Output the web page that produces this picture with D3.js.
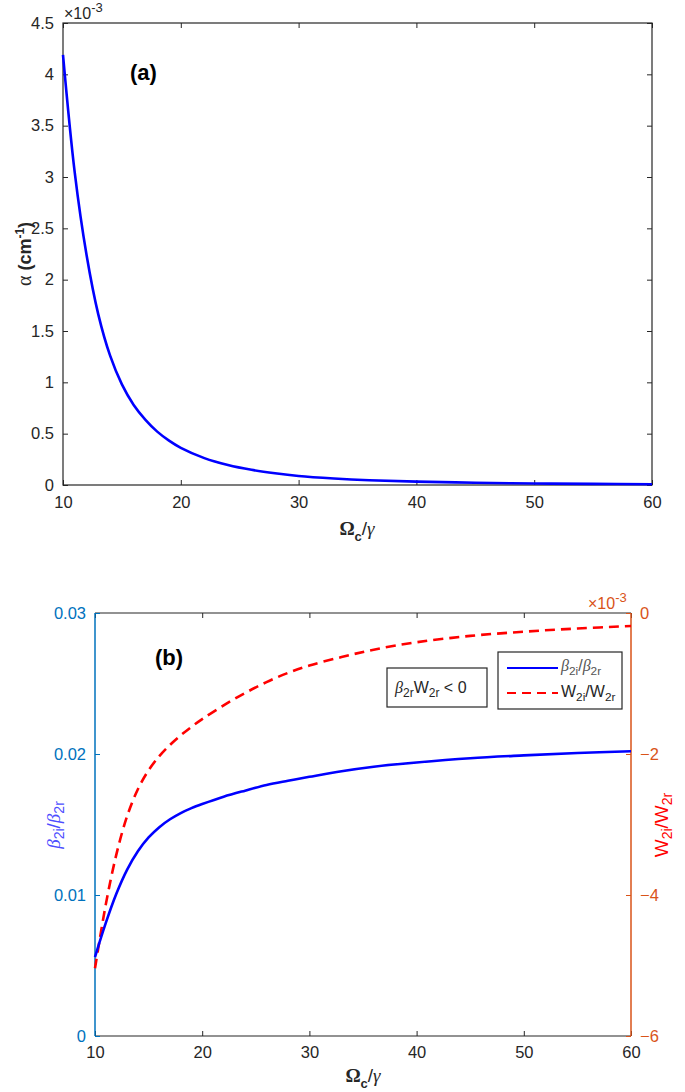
<!DOCTYPE html>
<html><head><meta charset="utf-8">
<script src="https://cdn.jsdelivr.net/npm/d3@7"></script>
<style>body{margin:0;background:#fff}svg{display:block}text{font-family:"Liberation Sans",Arial,sans-serif}</style>
</head><body><svg id="c" width="685" height="1092"></svg>
<script>
// ---- data ----
const omega = [10,11,12,13,14,15,16,17,18,19,20,22,24,26,28,30,33,36,40,45,50,55,60];
const alphaE3 = [4.19,3.04,2.24,1.66,1.26,0.98,0.78,0.635,0.52,0.432,0.362,0.262,0.195,0.148,0.114,0.088,0.064,0.047,0.033,0.022,0.015,0.011,0.008];
const betaRatio = [0.0056,0.0080,0.0101,0.0118,0.0131,0.01408,0.01481,0.01537,0.01581,0.01616,0.01645,0.01697,0.0174,0.0178,0.0181,0.01838,0.01878,0.0191,0.0194,0.0197,0.0199,0.02007,0.0202];
const wRatioE3 = [-5.04,-4.14,-3.42,-2.88,-2.50,-2.23,-2.03,-1.87,-1.735,-1.615,-1.505,-1.31,-1.135,-0.98,-0.85,-0.745,-0.625,-0.52,-0.415,-0.325,-0.265,-0.22,-0.185];
const xTicks = [10,20,30,40,50,60];
const aTicks = [0,0.5,1,1.5,2,2.5,3,3.5,4,4.5];
const bLeftTicks = [0,0.01,0.02,0.03];
const bRightTicks = [-6,-4,-2,0];

const svg = d3.select("#c");
const BLUE="#0000ff", RED="#ff0000", LAX="#0072BD", RAX="#D95319", DK="#262626";
const tl = 5, FS = 16.5;
const curve = d3.curveCatmullRom.alpha(0.5);

// ---- panel (a) ----
const xa = d3.scaleLinear().domain([10,60]).range([63,652]);
const ya = d3.scaleLinear().domain([0,4.5]).range([485,23]);
const ga = svg.append("g");
function axisStyle(g,color,size){g.attr("font-size",size).attr("font-family",null);g.select(".domain").remove();g.selectAll("text").attr("fill",color).style("font-size",size+"px");g.selectAll("line").attr("stroke",color);}
ga.append("g").attr("transform","translate(0,485)").call(d3.axisBottom(xa).tickValues(xTicks).tickSize(-tl).tickPadding(11).tickFormat(d3.format("d"))).call(g=>axisStyle(g,DK,FS));
ga.append("g").attr("transform","translate(0,23)").call(d3.axisTop(xa).tickValues(xTicks).tickSize(-tl).tickFormat("")).call(g=>axisStyle(g,DK,FS));
ga.append("g").attr("transform","translate(63,0)").call(d3.axisLeft(ya).tickValues(aTicks).tickSize(-tl).tickPadding(9).tickFormat(d=>d3.format("")(d))).call(g=>axisStyle(g,DK,FS));
ga.append("g").attr("transform","translate(652,0)").call(d3.axisRight(ya).tickValues(aTicks).tickSize(-tl).tickFormat("")).call(g=>axisStyle(g,DK,FS));
ga.append("rect").attr("x",63).attr("y",23).attr("width",652-63).attr("height",485-23).attr("fill","none").attr("stroke",DK).attr("stroke-width",1.2);
ga.append("path").datum(omega.map((x,i)=>[x,alphaE3[i]])).attr("fill","none").attr("stroke",BLUE).attr("stroke-width",2.6)
  .attr("d",d3.line().x(d=>xa(d[0])).y(d=>ya(d[1])).curve(curve));
// exponent
let t = ga.append("text").attr("x",64).attr("y",19).attr("fill",DK).style("font-size","16px");
t.append("tspan").text("×10");
t.append("tspan").attr("dy",-7).style("font-size","13px").text("-3");
ga.append("text").attr("x",130).attr("y",80).attr("fill","#000").style("font-size","22px").style("font-weight","bold").text("(a)");
// y label
t = ga.append("text").attr("transform","translate(31,254) rotate(-90)").attr("text-anchor","middle").attr("fill",DK).style("font-size","18px").style("font-weight","bold");
t.append("tspan").style("font-family","'Liberation Serif',serif").style("font-weight","normal").style("font-size","20px").text("α");
t.append("tspan").text(" (cm");
t.append("tspan").attr("dy",-7).style("font-size","12px").text("-1");
t.append("tspan").attr("dy",7).text(")");
// x label
function omegaLabel(g,x,y){
  const tt=g.append("text").attr("x",x).attr("y",y).attr("text-anchor","middle").attr("fill",DK).style("font-size","19px");
  tt.append("tspan").style("font-family","'Liberation Serif',serif").style("font-weight","bold").text("Ω");
  tt.append("tspan").attr("dy",6).style("font-size","13px").style("font-weight","bold").text("c");
  tt.append("tspan").attr("dy",-6).text("/");
  tt.append("tspan").style("font-family","'Liberation Serif',serif").style("font-style","italic").text("γ");
}
omegaLabel(ga,357,535);

// ---- panel (b) ----
const xb = d3.scaleLinear().domain([10,60]).range([95,631]);
const yl = d3.scaleLinear().domain([0,0.03]).range([1036,613]);
const yr = d3.scaleLinear().domain([-6,0]).range([1036,613]);
const gb = svg.append("g");
gb.append("line").attr("x1",95).attr("x2",631).attr("y1",613).attr("y2",613).attr("stroke",DK).attr("stroke-width",1.2);
gb.append("line").attr("x1",95).attr("x2",631).attr("y1",1036).attr("y2",1036).attr("stroke",DK).attr("stroke-width",1.2);
gb.append("g").attr("transform","translate(0,1036)").call(d3.axisBottom(xb).tickValues(xTicks).tickSize(-tl).tickPadding(10).tickFormat(d3.format("d"))).call(g=>axisStyle(g,DK,FS));
gb.append("g").attr("transform","translate(0,613)").call(d3.axisTop(xb).tickValues(xTicks).tickSize(-tl).tickFormat("")).call(g=>axisStyle(g,DK,FS));
gb.append("g").attr("transform","translate(95,0)").call(d3.axisLeft(yl).tickValues(bLeftTicks).tickSize(-tl).tickPadding(9).tickFormat(d=>d===0?"0":d3.format(".2f")(d))).call(g=>axisStyle(g,LAX,FS));
gb.append("g").attr("transform","translate(631,0)").call(d3.axisRight(yr).tickValues(bRightTicks).tickSize(-tl).tickPadding(9).tickFormat(d3.format("d"))).call(g=>axisStyle(g,RAX,FS));
gb.append("line").attr("x1",95).attr("x2",95).attr("y1",613).attr("y2",1036).attr("stroke",LAX).attr("stroke-width",1.5);
gb.append("line").attr("x1",631).attr("x2",631).attr("y1",613).attr("y2",1036).attr("stroke",RAX).attr("stroke-width",1.5);
gb.append("path").datum(omega.map((x,i)=>[x,wRatioE3[i]])).attr("fill","none").attr("stroke",RED).attr("stroke-width",2.6).attr("stroke-dasharray","10,6")
  .attr("d",d3.line().x(d=>xb(d[0])).y(d=>yr(d[1])).curve(curve));
gb.append("path").datum(omega.map((x,i)=>[x,betaRatio[i]])).attr("fill","none").attr("stroke",BLUE).attr("stroke-width",2.6)
  .attr("d",d3.line().x(d=>xb(d[0])).y(d=>yl(d[1])).curve(curve));
// right exponent
t = gb.append("text").attr("x",588).attr("y",609).attr("fill",RAX).style("font-size","16px");
t.append("tspan").text("×10");
t.append("tspan").attr("dy",-7).style("font-size","13px").text("-3");
gb.append("text").attr("x",155).attr("y",665).attr("fill","#000").style("font-size","22px").style("font-weight","bold").text("(b)");
// annotation box
gb.append("rect").attr("x",387).attr("y",668).attr("width",100).attr("height",39).attr("fill","#fff").attr("stroke",DK).attr("stroke-width",1.2);
t = gb.append("text").attr("x",395).attr("y",693).attr("fill",DK).style("font-size","16px");
t.append("tspan").style("font-family","'Liberation Serif',serif").style("font-style","italic").text("β");
t.append("tspan").attr("dy",4).style("font-size","12px").text("2r");
t.append("tspan").attr("dy",-4).text("W");
t.append("tspan").attr("dy",4).style("font-size","12px").text("2r");
t.append("tspan").attr("dy",-4).text(" < 0");
// legend
gb.append("rect").attr("x",498).attr("y",652).attr("width",124).attr("height",57).attr("fill","#fff").attr("stroke",DK).attr("stroke-width",1.2);
gb.append("line").attr("x1",507).attr("x2",558).attr("y1",668).attr("y2",668).attr("stroke",BLUE).attr("stroke-width",2);
gb.append("line").attr("x1",507).attr("x2",558).attr("y1",693).attr("y2",693).attr("stroke",RED).attr("stroke-width",2).attr("stroke-dasharray","9,6");
function ratioText(g,x,y,sym,greek,color,size,anchor){
  const tt=g.append("text").attr("x",x).attr("y",y).attr("fill",color).style("font-size",size+"px");
  if(anchor) tt.attr("text-anchor",anchor);
  const f=greek?"'Liberation Serif',serif":null;
  const a=tt.append("tspan").text(sym); if(f) a.style("font-family",f).style("font-style","italic");
  tt.append("tspan").attr("dy",4).style("font-size",(size*0.74)+"px").text("2i");
  tt.append("tspan").attr("dy",-4).text("/");
  const b=tt.append("tspan").text(sym); if(f) b.style("font-family",f).style("font-style","italic");
  tt.append("tspan").attr("dy",4).style("font-size",(size*0.74)+"px").text("2r");
  return tt;
}
ratioText(gb,561,671,"β",true,"#555",16);
ratioText(gb,561,697,"W",false,DK,16);
// axis labels
const lg = gb.append("g").attr("transform","translate(60,825) rotate(-90)");
ratioText(lg,0,0,"β",true,"#4d4dff",19,"middle");
const rg = gb.append("g").attr("transform","translate(668,825) rotate(-90)");
ratioText(rg,0,0,"W",false,RED,19,"middle");
omegaLabel(gb,363,1082);
</script></body></html>
